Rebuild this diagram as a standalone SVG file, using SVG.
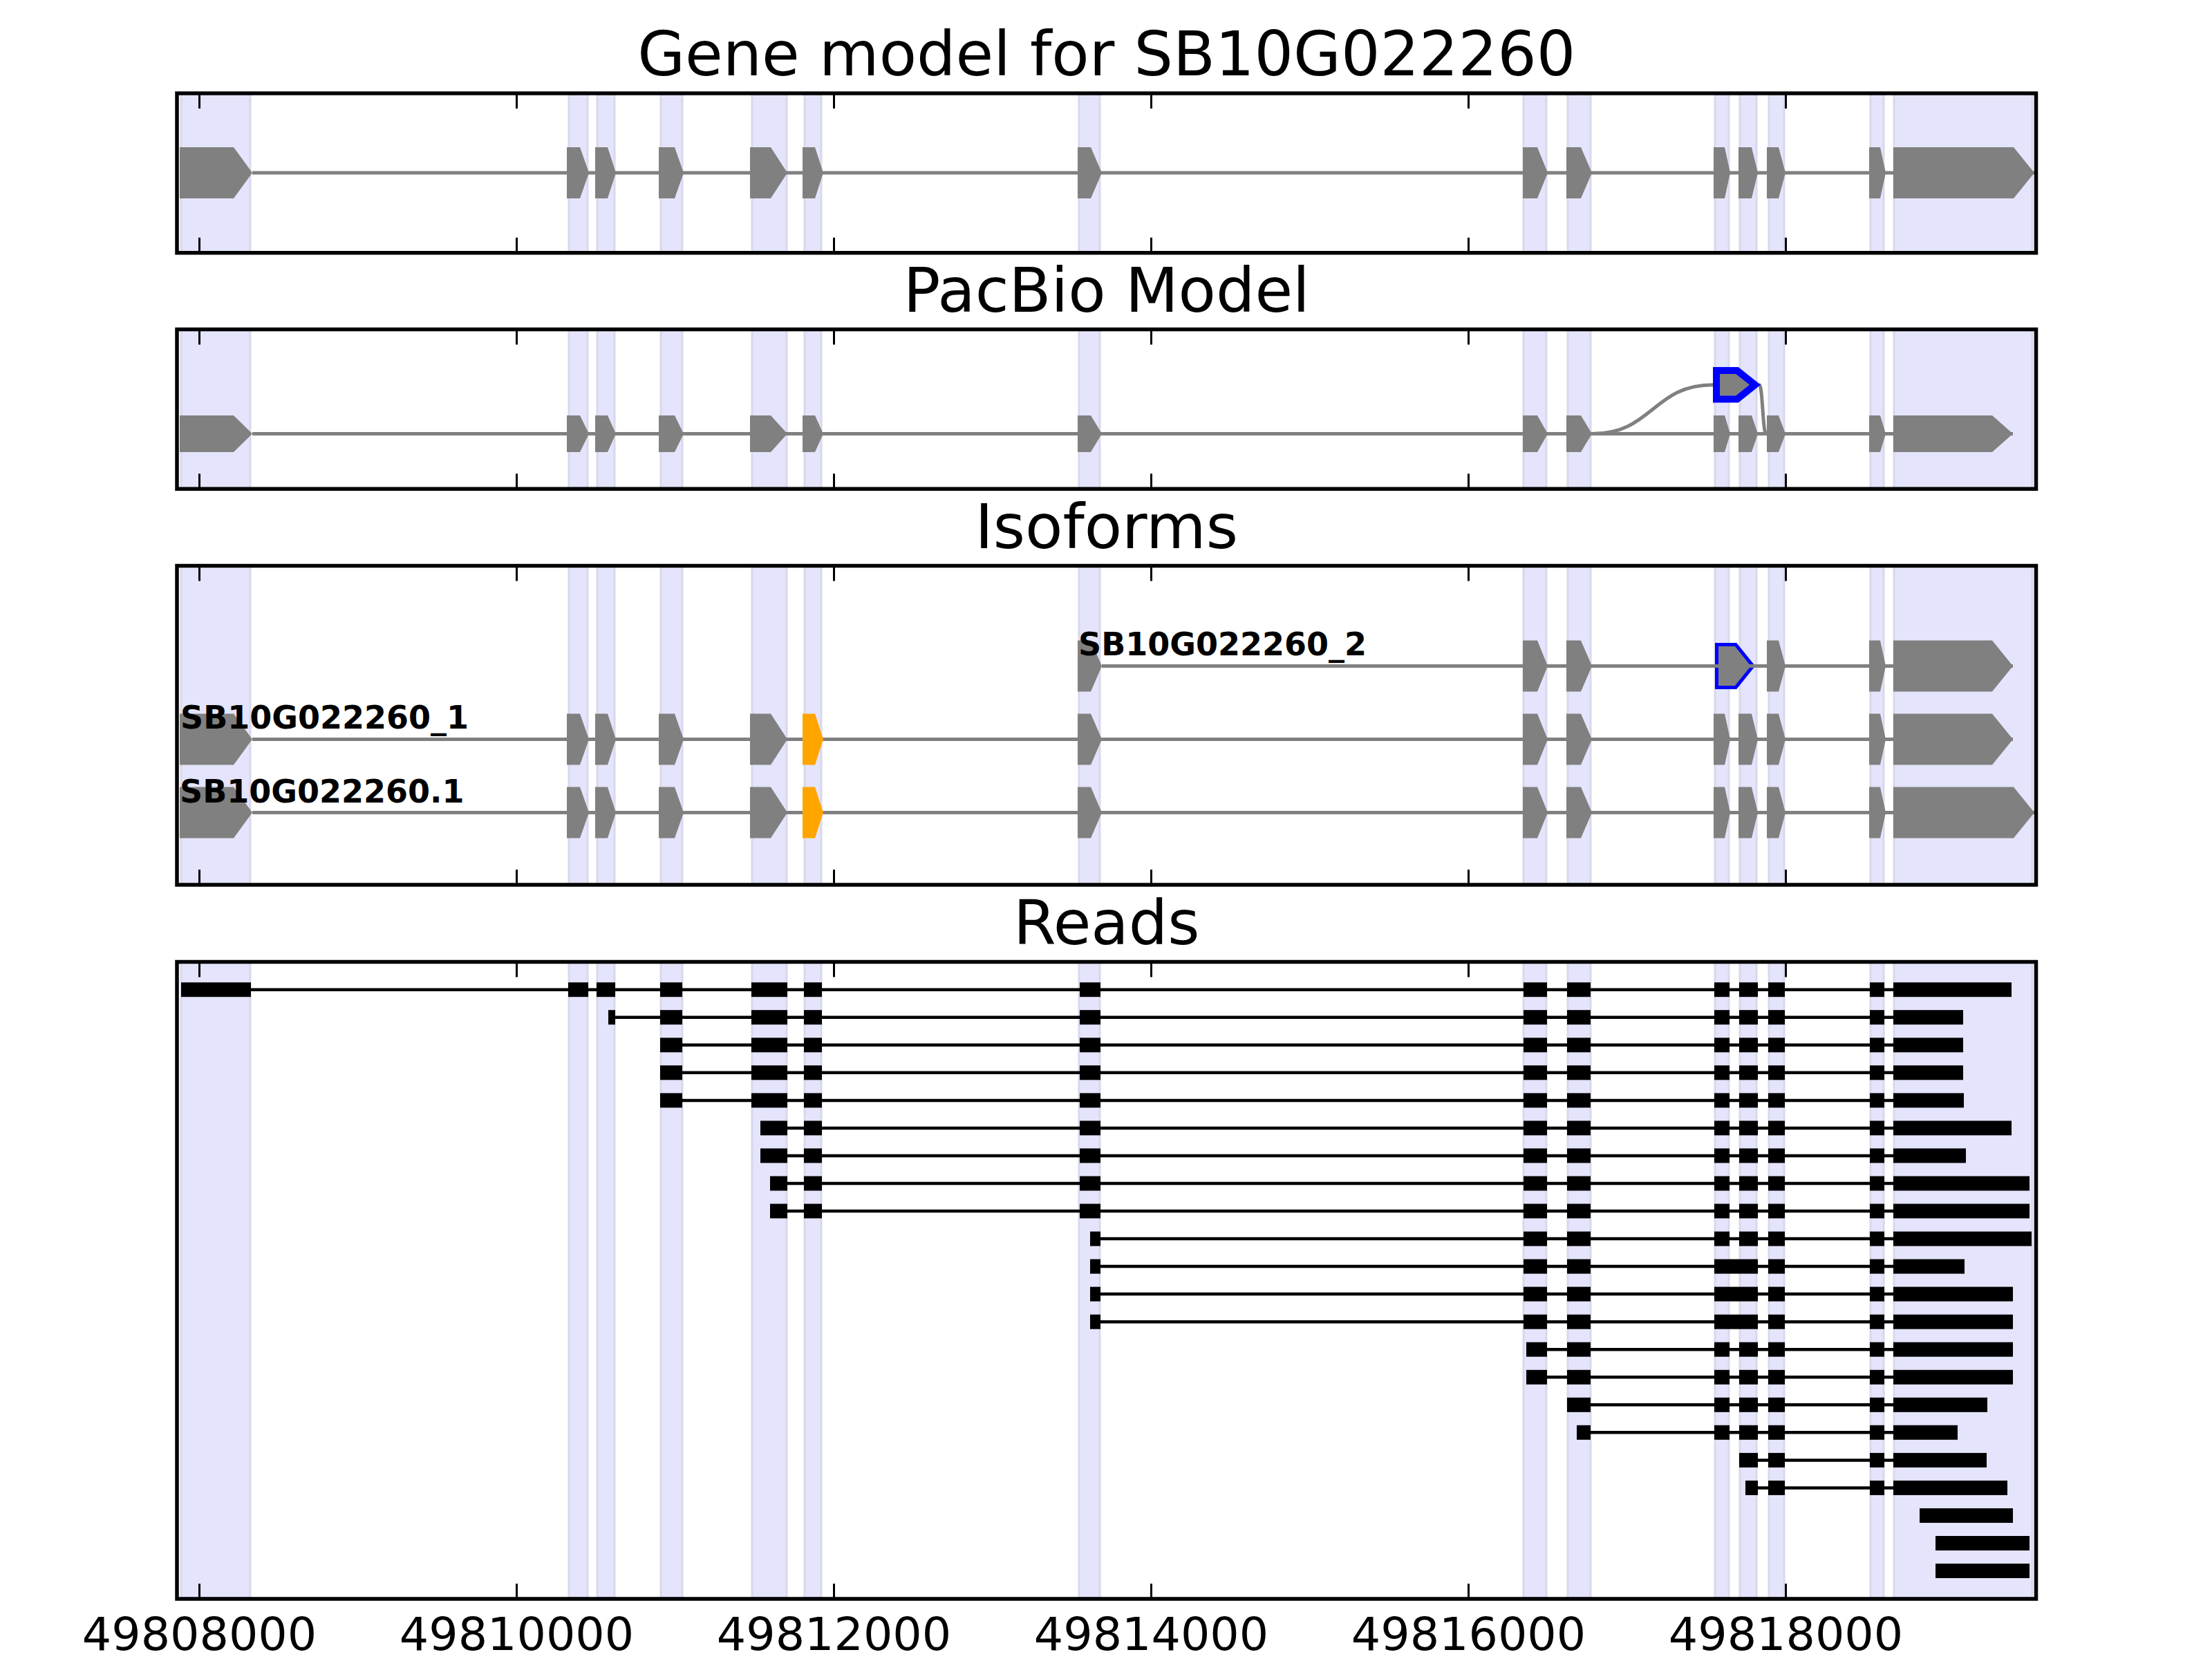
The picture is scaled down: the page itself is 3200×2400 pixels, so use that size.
<svg xmlns="http://www.w3.org/2000/svg" width="3200" height="2400" viewBox="0 0 3200 2400">
<style>
.band{fill:#e4e4fc;stroke:#d8d8ec;stroke-width:3}
.ex{fill:#808080}
.orange{fill:#ffa500}
.intron{stroke:#808080;stroke-width:5;fill:none}
.spine{fill:none;stroke:#000;stroke-width:5.5}
.tick{stroke:#000;stroke-width:3}
.title{font-family:'DejaVu Sans',sans-serif;font-size:88.9px;text-anchor:middle;fill:#000}
.tl{font-family:'DejaVu Sans',sans-serif;font-size:66.7px;text-anchor:middle;fill:#000}
.lab{font-family:'DejaVu Sans',sans-serif;font-size:46px;font-weight:bold;fill:#000}
.rl{stroke:#000;stroke-width:4.5}
.blk{fill:#000}
.blue{fill:#808080;stroke:#0000ff;stroke-linejoin:miter}
</style>
<defs>
<clipPath id="c1"><rect x="256" y="135" width="2689.5" height="230.75"/></clipPath>
<clipPath id="c2"><rect x="256" y="476.5" width="2689.5" height="230.75"/></clipPath>
<clipPath id="c3"><rect x="256" y="818.5" width="2689.5" height="461.5"/></clipPath>
<clipPath id="c4"><rect x="256" y="1391.5" width="2689.5" height="921.5"/></clipPath>
<g id="bands">
<rect class="band" x="262" y="0" width="100" height="2400"/>
<rect class="band" x="823" y="0" width="27" height="2400"/>
<rect class="band" x="864" y="0" width="25" height="2400"/>
<rect class="band" x="956" y="0" width="31" height="2400"/>
<rect class="band" x="1088" y="0" width="50" height="2400"/>
<rect class="band" x="1164" y="0" width="24" height="2400"/>
<rect class="band" x="1561" y="0" width="30" height="2400"/>
<rect class="band" x="2204" y="0" width="33" height="2400"/>
<rect class="band" x="2268" y="0" width="33" height="2400"/>
<rect class="band" x="2481" y="0" width="20" height="2400"/>
<rect class="band" x="2517" y="0" width="24" height="2400"/>
<rect class="band" x="2559" y="0" width="22" height="2400"/>
<rect class="band" x="2706" y="0" width="19" height="2400"/>
<rect class="band" x="2740" y="0" width="200" height="2400"/>
</g>
<g id="ticks">
<line class="tick" x1="288.5" y1="0" x2="288.5" y2="22"/>
<line class="tick" x1="747.5" y1="0" x2="747.5" y2="22"/>
<line class="tick" x1="1206.5" y1="0" x2="1206.5" y2="22"/>
<line class="tick" x1="1665.5" y1="0" x2="1665.5" y2="22"/>
<line class="tick" x1="2124.5" y1="0" x2="2124.5" y2="22"/>
<line class="tick" x1="2583.5" y1="0" x2="2583.5" y2="22"/>
</g>
<!-- normalized exon shapes: y from -1 to 1 -->
<g id="exL5">
<polygon points="260,-1 338,-1 365,0 338,1 260,1"/>
<polygon points="820,-1 839,-1 852,0 839,1 820,1"/>
<polygon points="861,-1 879,-1 891,0 879,1 861,1"/>
<polygon points="953,-1 976,-1 989,0 976,1 953,1"/>
<polygon points="1085,-1 1115,-1 1139,0 1115,1 1085,1"/>
</g>
<polygon id="ex6" points="1161,-1 1179,-1 1191,0 1179,1 1161,1"/>
<polygon id="ex7" points="1559,-1 1578,-1 1594,0 1578,1 1559,1"/>
<g id="ex89">
<polygon points="2203,-1 2224,-1 2239,0 2224,1 2203,1"/>
<polygon points="2266,-1 2287,-1 2303,0 2287,1 2266,1"/>
</g>
<g id="ex1011">
<polygon points="2479,-1 2495,-1 2503,0 2495,1 2479,1"/>
<polygon points="2515,-1 2534,-1 2543,0 2534,1 2515,1"/>
</g>
<g id="ex1213">
<polygon points="2556,-1 2573,-1 2583,0 2573,1 2556,1"/>
<polygon points="2704,-1 2720,-1 2728,0 2720,1 2704,1"/>
</g>
<polygon id="ex14L" points="2739,-1 2913,-1 2943,0 2913,1 2739,1"/>
<polygon id="ex14S" points="2739,-1 2882,-1 2912,0 2882,1 2739,1"/>
<!-- read blocks -->
<g id="rL47">
<rect x="955" y="-10.5" width="32" height="21"/>
<rect x="1087" y="-10.5" width="52" height="21"/>
<rect x="1163" y="-10.5" width="26" height="21"/>
<rect x="1562" y="-10.5" width="30" height="21"/>
</g>
<g id="rEF">
<rect x="2558" y="-10.5" width="24" height="21"/>
<rect x="2705" y="-10.5" width="21" height="21"/>
</g>
<g id="rDF">
<rect x="2516" y="-10.5" width="27" height="21"/>
<use href="#rEF"/>
</g>
<g id="rCF">
<rect x="2480" y="-10.5" width="22" height="21"/>
<use href="#rDF"/>
</g>
<g id="rBF">
<rect x="2267" y="-10.5" width="34" height="21"/>
<use href="#rCF"/>
</g>
<g id="rAF">
<rect x="2204" y="-10.5" width="34" height="21"/>
<use href="#rBF"/>
</g>
<g id="rABcdEF">
<rect x="2204" y="-10.5" width="34" height="21"/>
<rect x="2267" y="-10.5" width="34" height="21"/>
<rect x="2480" y="-10.5" width="63" height="21"/>
<use href="#rEF"/>
</g>
</defs>

<rect x="0" y="0" width="3200" height="2400" fill="#fff"/>

<!-- Panel 1: Gene model -->
<g id="panel-gene-model">
<use href="#bands" clip-path="url(#c1)"/>
<line class="intron" x1="365" y1="250" x2="2943" y2="250"/>
<g class="ex" transform="translate(0,250) scale(1,37)">
<use href="#exL5"/><use href="#ex6"/><use href="#ex7"/><use href="#ex89"/><use href="#ex1011"/><use href="#ex1213"/><use href="#ex14L"/>
</g>
<use href="#ticks" transform="translate(0,135)"/>
<use href="#ticks" transform="translate(0,365.75) scale(1,-1)"/>
<rect class="spine" x="256" y="135" width="2689.5" height="230.75"/>
<text class="title" x="1600.75" y="109">Gene model for SB10G022260</text>
</g>

<!-- Panel 2: PacBio model -->
<g id="panel-pacbio">
<use href="#bands" clip-path="url(#c2)"/>
<line class="intron" x1="365" y1="627.5" x2="2912" y2="627.5"/>
<g id="connectors">
<path class="intron" d="M2303,627.5 C2391,627.5 2391,556.7 2478,556.7"/>
<path class="intron" d="M2545,556.7 C2550,556.7 2550,627.5 2555,627.5"/>
</g>
<g class="ex" transform="translate(0,627.5) scale(1,26.5)">
<use href="#exL5"/><use href="#ex6"/><use href="#ex7"/><use href="#ex89"/><use href="#ex1011"/><use href="#ex1213"/><use href="#ex14S"/>
</g>
<polygon class="blue" stroke-width="10" points="2483,536 2513,536 2539,556.7 2513,577.5 2483,577.5"/>
<use href="#ticks" transform="translate(0,476.5)"/>
<use href="#ticks" transform="translate(0,707.25) scale(1,-1)"/>
<rect class="spine" x="256" y="476.5" width="2689.5" height="230.75"/>
<text class="title" x="1600.75" y="450.5">PacBio Model</text>
</g>

<!-- Panel 3: Isoforms -->
<g id="panel-isoforms">
<use href="#bands" clip-path="url(#c3)"/>
<g id="iso-SB10G022260_2">
<polygon class="blue" stroke-width="5" points="2483.5,932.5 2511,932.5 2536,963.5 2511,994.5 2483.5,994.5"/>
<line class="intron" x1="1594" y1="963.5" x2="2912" y2="963.5"/>
<g class="ex" transform="translate(0,963.5) scale(1,37)">
<use href="#ex7"/><use href="#ex89"/><use href="#ex1213"/><use href="#ex14S"/>
</g>
<text class="lab" x="1560" y="948">SB10G022260_2</text>
</g>
<g id="iso-SB10G022260_1">
<line class="intron" x1="365" y1="1069.5" x2="2912" y2="1069.5"/>
<g class="ex" transform="translate(0,1069.5) scale(1,37)">
<use href="#exL5"/><use href="#ex7"/><use href="#ex89"/><use href="#ex1011"/><use href="#ex1213"/><use href="#ex14S"/>
<use class="orange" href="#ex6"/>
</g>
<text class="lab" x="261" y="1054">SB10G022260_1</text>
</g>
<g id="iso-SB10G022260.1">
<line class="intron" x1="365" y1="1175.5" x2="2943" y2="1175.5"/>
<g class="ex" transform="translate(0,1175.5) scale(1,37)">
<use href="#exL5"/><use href="#ex7"/><use href="#ex89"/><use href="#ex1011"/><use href="#ex1213"/><use href="#ex14L"/>
<use class="orange" href="#ex6"/>
</g>
<text class="lab" x="260" y="1160.5">SB10G022260.1</text>
</g>
<use href="#ticks" transform="translate(0,818.5)"/>
<use href="#ticks" transform="translate(0,1280) scale(1,-1)"/>
<rect class="spine" x="256" y="818.5" width="2689.5" height="461.5"/>
<text class="title" x="1600.75" y="792.5">Isoforms</text>
</g>

<!-- Panel 4: Reads -->
<g id="panel-reads">
<use href="#bands" clip-path="url(#c4)"/>
<g class="blk">
<g id="read1" transform="translate(0,1431.7)"><line class="rl" x1="262" y1="0" x2="2910" y2="0"/><rect x="262" y="-10.5" width="101" height="21"/><rect x="822" y="-10.5" width="29" height="21"/><rect x="863" y="-10.5" width="27" height="21"/><use href="#rL47"/><use href="#rAF"/><rect x="2739" y="-10.5" width="171" height="21"/></g>
<g id="read2" transform="translate(0,1471.7)"><line class="rl" x1="880" y1="0" x2="2840" y2="0"/><rect x="880" y="-10.5" width="10" height="21"/><use href="#rL47"/><use href="#rAF"/><rect x="2739" y="-10.5" width="101" height="21"/></g>
<g id="read3" transform="translate(0,1511.8)"><line class="rl" x1="955" y1="0" x2="2840" y2="0"/><use href="#rL47"/><use href="#rAF"/><rect x="2739" y="-10.5" width="101" height="21"/></g>
<g id="read4" transform="translate(0,1551.8)"><line class="rl" x1="955" y1="0" x2="2840" y2="0"/><use href="#rL47"/><use href="#rAF"/><rect x="2739" y="-10.5" width="101" height="21"/></g>
<g id="read5" transform="translate(0,1591.9)"><line class="rl" x1="955" y1="0" x2="2841" y2="0"/><use href="#rL47"/><use href="#rAF"/><rect x="2739" y="-10.5" width="102" height="21"/></g>
<g id="read6" transform="translate(0,1631.9)"><line class="rl" x1="1100" y1="0" x2="2910" y2="0"/><rect x="1100" y="-10.5" width="39" height="21"/><rect x="1163" y="-10.5" width="26" height="21"/><rect x="1562" y="-10.5" width="30" height="21"/><use href="#rAF"/><rect x="2739" y="-10.5" width="171" height="21"/></g>
<g id="read7" transform="translate(0,1671.9)"><line class="rl" x1="1100" y1="0" x2="2844" y2="0"/><rect x="1100" y="-10.5" width="39" height="21"/><rect x="1163" y="-10.5" width="26" height="21"/><rect x="1562" y="-10.5" width="30" height="21"/><use href="#rAF"/><rect x="2739" y="-10.5" width="105" height="21"/></g>
<g id="read8" transform="translate(0,1712)"><line class="rl" x1="1114" y1="0" x2="2936" y2="0"/><rect x="1114" y="-10.5" width="25" height="21"/><rect x="1163" y="-10.5" width="26" height="21"/><rect x="1562" y="-10.5" width="30" height="21"/><use href="#rAF"/><rect x="2739" y="-10.5" width="197" height="21"/></g>
<g id="read9" transform="translate(0,1752)"><line class="rl" x1="1114" y1="0" x2="2936" y2="0"/><rect x="1114" y="-10.5" width="25" height="21"/><rect x="1163" y="-10.5" width="26" height="21"/><rect x="1562" y="-10.5" width="30" height="21"/><use href="#rAF"/><rect x="2739" y="-10.5" width="197" height="21"/></g>
<g id="read10" transform="translate(0,1792.1)"><line class="rl" x1="1577" y1="0" x2="2939" y2="0"/><rect x="1577" y="-10.5" width="15" height="21"/><use href="#rAF"/><rect x="2739" y="-10.5" width="200" height="21"/></g>
<g id="read11" transform="translate(0,1832.1)"><line class="rl" x1="1577" y1="0" x2="2842" y2="0"/><rect x="1577" y="-10.5" width="15" height="21"/><use href="#rABcdEF"/><rect x="2739" y="-10.5" width="103" height="21"/></g>
<g id="read12" transform="translate(0,1872.1)"><line class="rl" x1="1577" y1="0" x2="2912" y2="0"/><rect x="1577" y="-10.5" width="15" height="21"/><use href="#rABcdEF"/><rect x="2739" y="-10.5" width="173" height="21"/></g>
<g id="read13" transform="translate(0,1912.2)"><line class="rl" x1="1577" y1="0" x2="2912" y2="0"/><rect x="1577" y="-10.5" width="15" height="21"/><use href="#rABcdEF"/><rect x="2739" y="-10.5" width="173" height="21"/></g>
<g id="read14" transform="translate(0,1952.2)"><line class="rl" x1="2208" y1="0" x2="2912" y2="0"/><rect x="2208" y="-10.5" width="30" height="21"/><use href="#rBF"/><rect x="2739" y="-10.5" width="173" height="21"/></g>
<g id="read15" transform="translate(0,1992.3)"><line class="rl" x1="2208" y1="0" x2="2912" y2="0"/><rect x="2208" y="-10.5" width="30" height="21"/><use href="#rBF"/><rect x="2739" y="-10.5" width="173" height="21"/></g>
<g id="read16" transform="translate(0,2032.3)"><line class="rl" x1="2267" y1="0" x2="2875" y2="0"/><use href="#rBF"/><rect x="2739" y="-10.5" width="136" height="21"/></g>
<g id="read17" transform="translate(0,2072.3)"><line class="rl" x1="2281" y1="0" x2="2832" y2="0"/><rect x="2281" y="-10.5" width="20" height="21"/><use href="#rCF"/><rect x="2739" y="-10.5" width="93" height="21"/></g>
<g id="read18" transform="translate(0,2112.4)"><line class="rl" x1="2516" y1="0" x2="2874" y2="0"/><use href="#rDF"/><rect x="2739" y="-10.5" width="135" height="21"/></g>
<g id="read19" transform="translate(0,2152.4)"><line class="rl" x1="2525" y1="0" x2="2904" y2="0"/><rect x="2525" y="-10.5" width="18" height="21"/><use href="#rEF"/><rect x="2739" y="-10.5" width="165" height="21"/></g>
<g id="read20" transform="translate(0,2192.5)"><rect x="2777" y="-10.5" width="135" height="21"/></g>
<g id="read21" transform="translate(0,2232.5)"><rect x="2800" y="-10.5" width="136" height="21"/></g>
<g id="read22" transform="translate(0,2272.5)"><rect x="2800" y="-10.5" width="136" height="21"/></g>
</g>
<use href="#ticks" transform="translate(0,1391.5)"/>
<use href="#ticks" transform="translate(0,2313) scale(1,-1)"/>
<rect class="spine" x="256" y="1391.5" width="2689.5" height="921.5"/>
<text class="title" x="1600.75" y="1365.5">Reads</text>
</g>

<g id="x-tick-labels">
<text class="tl" x="288.5" y="2387">49808000</text>
<text class="tl" x="747.5" y="2387">49810000</text>
<text class="tl" x="1206.5" y="2387">49812000</text>
<text class="tl" x="1665.5" y="2387">49814000</text>
<text class="tl" x="2124.5" y="2387">49816000</text>
<text class="tl" x="2583.5" y="2387">49818000</text>
</g>
</svg>
